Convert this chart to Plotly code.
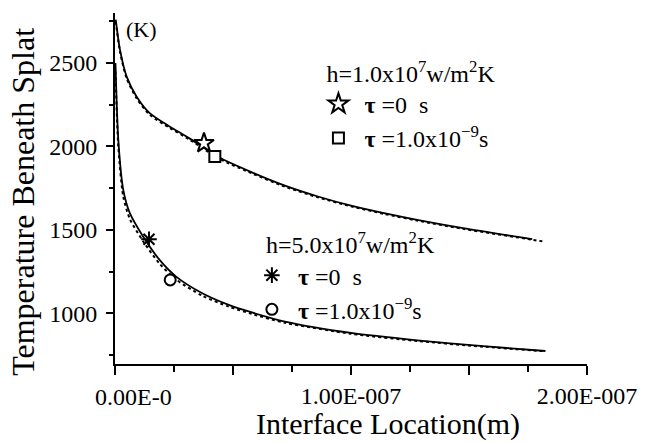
import plotly.graph_objects as go

# ---------------- data (x in m, T in K) ----------------
# h = 1.0e7 W/m2K
x_h1_solid = [0.03e-8, 0.21e-8, 0.49e-8, 0.91e-8, 1.47e-8, 2.31e-8, 3.14e-8, 4.40e-8,
              5.80e-8, 7.20e-8, 8.60e-8, 10.0e-8, 11.4e-8, 12.8e-8, 14.75e-8, 17.68e-8]
t_h1_solid = [2760, 2580, 2420, 2300, 2200, 2120, 2050, 1935,
              1845, 1765, 1700, 1645, 1600, 1560, 1510, 1444]
x_h1_dot = [0.03e-8, 0.21e-8, 0.49e-8, 0.91e-8, 1.47e-8, 2.31e-8, 3.14e-8, 4.40e-8,
            5.80e-8, 7.20e-8, 8.60e-8, 10.0e-8, 11.4e-8, 12.8e-8, 14.75e-8, 17.68e-8, 18.24e-8]
t_h1_dot = [2750, 2570, 2410, 2290, 2190, 2112, 2043, 1928,
            1839, 1759, 1695, 1641, 1596, 1556, 1506, 1441, 1428]

# h = 5.0e7 W/m2K
x_h5_solid = [0.02e-8, 0.14e-8, 0.35e-8, 0.63e-8, 1.19e-8, 1.89e-8, 2.59e-8, 3.70e-8,
              4.82e-8, 5.80e-8, 7.20e-8, 10.0e-8, 12.8e-8, 15.6e-8, 18.24e-8]
t_h5_solid = [2500, 2040, 1740, 1600, 1460, 1320, 1220, 1120,
              1050, 1005, 950, 882, 838, 803, 774]
x_h5_dot = [0.02e-8, 0.14e-8, 0.35e-8, 0.63e-8, 1.19e-8, 1.89e-8, 2.59e-8, 3.70e-8,
            4.82e-8, 5.80e-8, 7.20e-8, 10.0e-8, 12.8e-8, 15.6e-8, 18.24e-8]
t_h5_dot = [2450, 2000, 1700, 1565, 1432, 1297, 1202, 1105,
            1040, 996, 943, 877, 834, 800, 772]

# marker points
star_x, star_y = [3.77e-8], [2020]          # h=1e7, tau=0
square_x, square_y = [4.23e-8], [1940]      # h=1e7, tau=1e-9
aster_x, aster_y = [1.44e-8], [1444]        # h=5e7, tau=0
circle_x, circle_y = [2.34e-8], [1200]      # h=5e7, tau=1e-9

x_tickvals = [0, 5e-8, 1e-7, 1.5e-7, 2e-7]
x_ticktext = ["", "", "1.00E-007", "", "2.00E-007"]
y_tickvals = [1000, 1500, 2000, 2500]

FONT = "Liberation Serif"

fig = go.Figure()

def line(x, y, dash):
    fig.add_trace(go.Scatter(
        x=x, y=y, mode="lines", showlegend=False, hoverinfo="skip",
        line=dict(color="black", width=1.8 if dash == "solid" else 2.0, dash=dash,
                  shape="spline", smoothing=0.7)))

line(x_h1_dot, t_h1_dot, "dot")
line(x_h1_solid, t_h1_solid, "solid")
line(x_h5_dot, t_h5_dot, "dot")
line(x_h5_solid, t_h5_solid, "solid")

def mk(x, y, sym, size, name, leg, fill="white"):
    fig.add_trace(go.Scatter(
        x=x, y=y, mode="markers", name=name, legend=leg,
        marker=dict(symbol=sym, size=size, color=fill,
                    line=dict(color="black", width=2))))

mk(star_x, star_y, "star", 15, " <b>τ</b> =0  s", "legend")
mk(square_x, square_y, "square", 11, " <b>τ</b> =1.0x10<sup>−9</sup>s", "legend")
mk(aster_x, aster_y, "asterisk-open", 13, " <b>τ</b> =0  s", "legend2", fill="black")
mk(circle_x, circle_y, "circle", 11, " <b>τ</b> =1.0x10<sup>−9</sup>s", "legend2")

legfont = dict(family=FONT, size=24, color="black")
fig.update_layout(
    width=649, height=443,
    margin=dict(l=115, r=57, t=13, b=79),
    paper_bgcolor="white", plot_bgcolor="white",
    font=dict(family=FONT, size=24, color="black"),
    showlegend=True,
    legend=dict(x=0.431, y=0.893, xanchor="left", yanchor="top",
                bgcolor="rgba(0,0,0,0)", font=legfont,
                title=dict(text=" h=1.0x10<sup>7</sup>w/m<sup>2</sup>K", font=legfont),
                itemsizing="trace"),
    legend2=dict(x=0.290, y=0.405, xanchor="left", yanchor="top",
                 bgcolor="rgba(0,0,0,0)", font=legfont,
                 title=dict(text="  h=5.0x10<sup>7</sup>w/m<sup>2</sup>K", font=legfont),
                 itemsizing="trace"),
)

fig.update_xaxes(
    range=[0, 2e-7], showgrid=False, zeroline=False,
    showline=True, linecolor="black", linewidth=2,
    ticks="outside", ticklen=9, tickwidth=1.5, tickcolor="black",
    tickmode="array", tickvals=x_tickvals, ticktext=x_ticktext,
    tickfont=dict(family=FONT, size=24, color="black"),
    minor=dict(ticks="outside", ticklen=6, tickwidth=1.5, tickcolor="black",
               dtick=2.5e-8, tick0=0, showgrid=False),
)
fig.update_yaxes(
    range=[696, 2800], showgrid=False, zeroline=False,
    showline=True, linecolor="black", linewidth=2,
    ticks="outside", ticklen=7, tickwidth=1.5, tickcolor="black",
    tickmode="array", tickvals=y_tickvals,
    tickfont=dict(family=FONT, size=24, color="black"),
    ticklabelstandoff=4,
    minor=dict(ticks="outside", ticklen=4, tickwidth=1.5, tickcolor="black",
               dtick=250, tick0=750, showgrid=False),
)

fig.add_annotation(text="Temperature Beneath Splat", textangle=-90,
                   xref="paper", yref="paper", x=-0.195, y=0.462, showarrow=False,
                   font=dict(family=FONT, size=32, color="black"),
                   xanchor="center", yanchor="middle")
fig.add_annotation(text="Interface Location(m)", xref="paper", yref="paper",
                   x=0.578, y=-0.172, showarrow=False,
                   font=dict(family=FONT, size=30, color="black"),
                   xanchor="center", yanchor="middle")
fig.add_annotation(text="0.00E-0", xref="x", yref="paper", x=0, xshift=18,
                   y=-0.05, showarrow=False, yanchor="top",
                   font=dict(family=FONT, size=24, color="black"))
fig.add_annotation(text="(K)", xref="paper", yref="paper", x=0.02, y=0.995,
                   showarrow=False, xanchor="left", yanchor="top",
                   font=dict(family=FONT, size=22, color="black"))

fig.write_html("out.html")
